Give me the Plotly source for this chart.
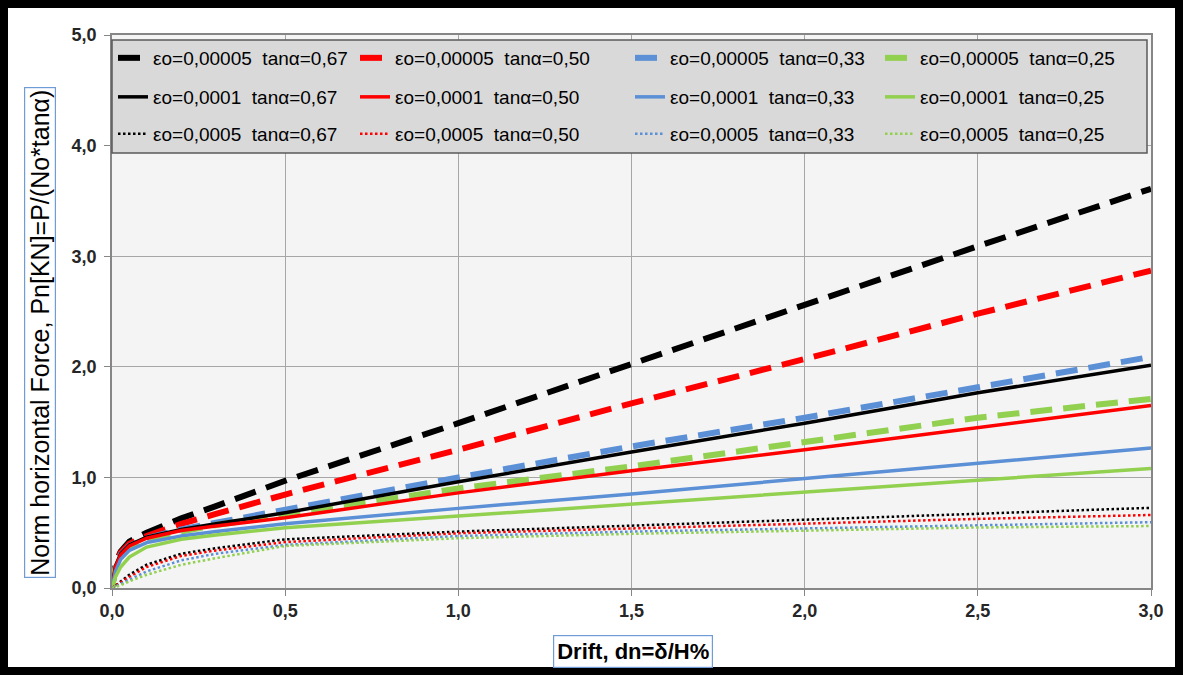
import plotly.graph_objects as go

# ---------------- data ----------------
drift = [0, 0.01, 0.025, 0.05, 0.1, 0.2, 0.3, 0.5, 1.0, 1.5, 2.0, 2.5, 3.0]

# eps0 = 0.00005 (dashed)
e5_t067 = [0, 0.22, 0.33, 0.42, 0.50, 0.63, 0.74, 0.97, 1.49, 2.03, 2.56, 3.09, 3.61]
e5_t050 = [0, 0.21, 0.32, 0.40, 0.47, 0.58, 0.67, 0.845, 1.25, 1.67, 2.07, 2.48, 2.87]
e5_t033 = [0, 0.19, 0.30, 0.38, 0.45, 0.53, 0.59, 0.71, 1.00, 1.28, 1.54, 1.815, 2.09]
e5_t025 = [0, 0.17, 0.28, 0.36, 0.43, 0.51, 0.57, 0.66, 0.90, 1.10, 1.32, 1.54, 1.71]
# eps0 = 0.0001 (solid)
e1_t067 = [0, 0.20, 0.31, 0.39, 0.46, 0.53, 0.58, 0.68, 0.96, 1.23, 1.49, 1.765, 2.015]
e1_t050 = [0, 0.19, 0.30, 0.38, 0.45, 0.52, 0.56, 0.635, 0.86, 1.06, 1.25, 1.45, 1.65]
e1_t033 = [0, 0.15, 0.26, 0.34, 0.41, 0.47, 0.51, 0.58, 0.72, 0.85, 0.99, 1.13, 1.265]
e1_t025 = [0, 0.10, 0.19, 0.28, 0.37, 0.44, 0.48, 0.545, 0.65, 0.76, 0.87, 0.975, 1.08]
# eps0 = 0.0005 (dotted)
e05_t067 = [0, 0.02, 0.06, 0.12, 0.21, 0.31, 0.36, 0.44, 0.51, 0.565, 0.615, 0.675, 0.725]
e05_t050 = [0, 0.02, 0.05, 0.10, 0.19, 0.29, 0.34, 0.415, 0.495, 0.54, 0.585, 0.625, 0.66]
e05_t033 = [0, 0.015, 0.04, 0.08, 0.15, 0.25, 0.31, 0.39, 0.47, 0.51, 0.54, 0.565, 0.595]
e05_t025 = [0, 0.01, 0.025, 0.06, 0.12, 0.21, 0.27, 0.38, 0.45, 0.49, 0.52, 0.547, 0.56]

eps_labels = ["0,00005", "0,0001", "0,0005"]
tan_labels = ["0,67", "0,50", "0,33", "0,25"]
series_rows = [
    [e5_t067, e5_t050, e5_t033, e5_t025],
    [e1_t067, e1_t050, e1_t033, e1_t025],
    [e05_t067, e05_t050, e05_t033, e05_t025],
]

colors = ["#000000", "#ff0000", "#5b8fd6", "#92d050"]
row_styles = [
    dict(width=6, dash="22px,11px"),
    dict(width=3.5, dash="solid"),
    dict(width=2.5, dash="2.5px,2.5px"),
]

# ---------------- layout geometry (pixels) ----------------
W, H = 1183, 675
ML, MR, MT, MB = 112, 32, 35, 87
PW, PH = W - ML - MR, H - MT - MB

def px_x(px):
    return (px - ML) / PW

def px_y(py):
    return (H - MB - py) / PH

col_px = [118, 360, 635, 885]
row_py = [58, 97, 134]

FONT = "Liberation Sans, Arial, sans-serif"

fig = go.Figure()
legend_layouts = {}
n = 0
for r, row in enumerate(series_rows):
    for c, yvals in enumerate(row):
        n += 1
        lg = "legend" if n == 1 else f"legend{n}"
        name = f"εο={eps_labels[r]}\u00a0\u00a0tanα={tan_labels[c]}"
        fig.add_trace(go.Scatter(
            x=drift, y=yvals, mode="lines", name=name,
            line=dict(color=colors[c], **row_styles[r]),
            legend=lg,
        ))
        legend_layouts[lg] = dict(
            x=px_x(col_px[c] - 5), y=px_y(row_py[r]),
            xanchor="left", yanchor="middle",
            bgcolor="rgba(0,0,0,0)", borderwidth=0,
            font=dict(family=FONT, size=19, color="#000000"),
            orientation="h",
        )

axis_common = dict(
    showgrid=True, gridcolor="#a6a6a6", gridwidth=1,
    showline=True, linecolor="#868686", linewidth=1.5, mirror=True,
    ticks="outside", ticklen=6, tickcolor="#868686",
    tickformat=".1f", zeroline=False,
    tickfont=dict(family=FONT, size=18, color="#262626", weight="bold"),
)

fig.update_layout(
    width=W, height=H,
    margin=dict(l=ML, r=MR, t=MT, b=MB),
    paper_bgcolor="#ffffff",
    plot_bgcolor="#f4f4f4",
    separators=",.",
    showlegend=True,
    xaxis=dict(range=[0, 3], dtick=0.5, tick0=0, **axis_common),
    yaxis=dict(range=[0, 5], dtick=1, tick0=0, ticklabelstandoff=4, **axis_common),
    shapes=[
        # legend box
        dict(type="rect", xref="paper", yref="paper",
             x0=px_x(112), x1=px_x(1147), y0=px_y(153), y1=px_y(40),
             fillcolor="#d9d9d9", line=dict(color="#595959", width=1.5), layer="above"),
        # outer black frame
        dict(type="rect", xref="paper", yref="paper",
             x0=px_x(4), x1=px_x(1179), y0=px_y(671), y1=px_y(4),
             fillcolor="rgba(0,0,0,0)", line=dict(color="#000000", width=8), layer="above"),
    ],
    annotations=[
        dict(text="Norm horizontal Force, Pn[KN]=P/(No*tanα)",
             xref="paper", yref="paper", x=px_x(40), y=px_y(333),
             xanchor="center", yanchor="middle", textangle=-90, showarrow=False,
             font=dict(family=FONT, size=25, color="#000000"),
             bordercolor="#6f9bd6", borderwidth=1.2, borderpad=1, bgcolor="#ffffff"),
        dict(text="<b>Drift, dn=δ/H%</b>",
             xref="paper", yref="paper", x=px_x(633), y=px_y(651),
             xanchor="center", yanchor="middle", showarrow=False,
             font=dict(family=FONT, size=22, color="#000000"),
             bordercolor="#6f9bd6", borderwidth=1.2, borderpad=3, bgcolor="#ffffff"),
    ],
)
fig.update_layout(**legend_layouts)

fig.write_html(
    "out.html",
    config={"displayModeBar": False},
    post_script="document.body.style.margin='0px';document.body.style.overflow='hidden';",
)
